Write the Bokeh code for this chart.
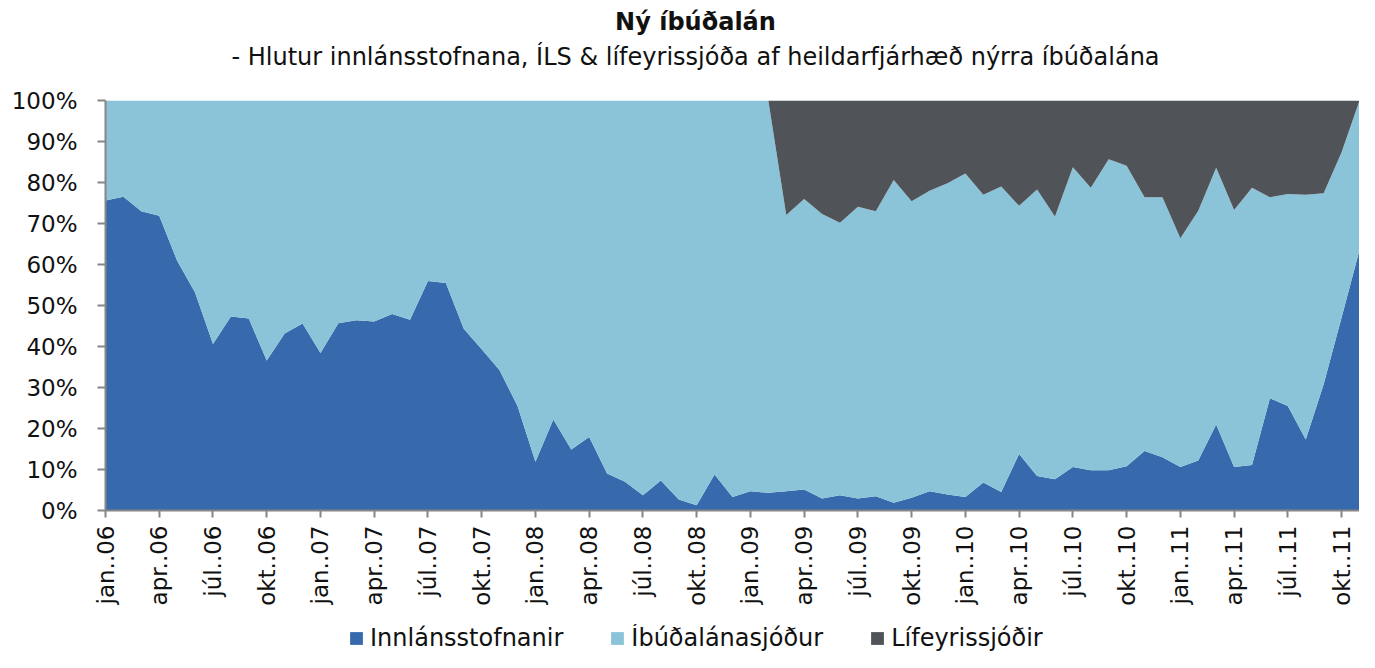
from bokeh.plotting import figure
from bokeh.layouts import column
from bokeh.models import ColumnDataSource, FixedTicker, Range1d, Legend, LegendItem, Label
from bokeh.embed import file_html
from bokeh.resources import INLINE

# Monthly shares (%) Jan 2006 - Nov 2011
innlansstofnanir = [
    75.6, 76.5, 73.0, 71.9, 60.9, 53.2, 40.6, 47.3, 46.8, 36.6, 43.2, 45.6,
    38.4, 45.7, 46.4, 46.1, 47.9, 46.5, 56.0, 55.5, 44.3, 39.3, 34.2, 25.5,
    11.9, 22.2, 14.9, 17.9, 9.0, 7.0, 3.7, 7.3, 2.7, 1.3, 8.8, 3.3,
    4.7, 4.3, 4.7, 5.1, 2.9, 3.7, 2.9, 3.5, 1.9, 3.1, 4.7, 3.9,
    3.3, 6.8, 4.5, 13.8, 8.4, 7.6, 10.6, 9.8, 9.8, 10.8, 14.5, 13.0,
    10.6, 12.2, 21.0, 10.6, 11.1, 27.4, 25.5, 17.3, 30.8, 47.1, 63.5]

ibudalanasjodur = [
    24.4, 23.5, 27.0, 28.1, 39.1, 46.8, 59.4, 52.7, 53.2, 63.4, 56.8, 54.4,
    61.6, 54.3, 53.6, 53.9, 52.1, 53.5, 44.0, 44.5, 55.7, 60.7, 65.8, 74.5,
    88.1, 77.8, 85.1, 82.1, 91.0, 93.0, 96.3, 92.7, 97.3, 98.7, 91.2, 96.7,
    95.3, 95.7, 67.4, 70.9, 69.4, 66.5, 71.2, 69.5, 78.7, 72.3, 73.3, 75.9,
    78.9, 70.2, 74.5, 60.5, 69.9, 64.1, 73.1, 68.9, 75.9, 73.3, 61.9, 63.4,
    55.8, 60.9, 62.6, 62.7, 67.6, 49.0, 51.7, 59.7, 46.6, 40.3, 36.5]

lifeyrissjodir = [
    0.0, 0.0, 0.0, 0.0, 0.0, 0.0, 0.0, 0.0, 0.0, 0.0, 0.0, 0.0,
    0.0, 0.0, 0.0, 0.0, 0.0, 0.0, 0.0, 0.0, 0.0, 0.0, 0.0, 0.0,
    0.0, 0.0, 0.0, 0.0, 0.0, 0.0, 0.0, 0.0, 0.0, 0.0, 0.0, 0.0,
    0.0, 0.0, 27.9, 24.0, 27.7, 29.8, 25.9, 27.0, 19.4, 24.6, 22.0, 20.2,
    17.8, 23.0, 21.0, 25.7, 21.7, 28.3, 16.3, 21.3, 14.3, 15.9, 23.6, 23.6,
    33.6, 26.9, 16.4, 26.7, 21.3, 23.6, 22.8, 23.0, 22.6, 12.6, 0.0]

tick_labels = [
    "jan..06", "apr..06", "júl..06", "okt..06",
    "jan..07", "apr..07", "júl..07", "okt..07",
    "jan..08", "apr..08", "júl..08", "okt..08",
    "jan..09", "apr..09", "júl..09", "okt..09",
    "jan..10", "apr..10", "júl..10", "okt..10",
    "jan..11", "apr..11", "júl..11", "okt..11"]

series_names = ["Innlánsstofnanir", "Íbúðalánasjóður", "Lífeyrissjóðir"]
colors = ["#376AAD", "#8BC4D8", "#505459"]

title_text = "Ný íbúðalán"
subtitle_text = "- Hlutur innlánsstofnana, ÍLS & lífeyrissjóða af heildarfjárhæð nýrra íbúðalána"

month_index = list(range(len(innlansstofnanir)))
source = ColumnDataSource(dict(x=month_index, innl=innlansstofnanir,
                               ils=ibudalanasjodur, lif=lifeyrissjodir))

FONT = "DejaVu Sans"
TXT = "#111111"
W = 1359
LEFT = 105
H_HEAD = 80
H_MAIN = 544
H_LEG = 28

# ---- header strip with title and subtitle ----
head = figure(width=W, height=H_HEAD, output_backend="svg", toolbar_location=None,
              x_range=Range1d(LEFT, W), y_range=Range1d(H_HEAD, 0),
              x_axis_type=None, y_axis_type=None,
              min_border_left=LEFT, min_border_right=0, min_border_top=0, min_border_bottom=0)
head.outline_line_color = None
head.grid.visible = False
head.add_layout(Label(x=695, y=21, text=title_text, text_font=FONT, text_font_style="bold",
                      text_font_size="24px", text_align="center", text_baseline="middle",
                      text_color=TXT))
head.add_layout(Label(x=695, y=56, text=subtitle_text, text_font=FONT,
                      text_font_size="24px", text_align="center", text_baseline="middle",
                      text_color=TXT))

# ---- main chart ----
p = figure(width=W, height=H_MAIN, output_backend="svg", toolbar_location=None,
           x_range=Range1d(0, len(month_index) - 1), y_range=Range1d(0, 100),
           min_border_left=LEFT, min_border_right=0, min_border_top=100 - H_HEAD,
           min_border_bottom=H_HEAD + H_MAIN - 510)
p.outline_line_color = None
p.grid.visible = False

renderers = p.varea_stack(["innl", "ils", "lif"], x="x", color=colors, source=source)

tick_pos = [i * 3 for i in range(len(tick_labels))]
p.xaxis.ticker = FixedTicker(ticks=tick_pos)
p.xaxis.major_label_overrides = {t: l for t, l in zip(tick_pos, tick_labels)}
p.xaxis.major_label_orientation = 1.5708
p.xaxis.minor_tick_line_color = None
p.xaxis.major_tick_in = 0
p.xaxis.major_tick_out = 7
p.xaxis.major_label_standoff = 8

yt = [0, 10, 20, 30, 40, 50, 60, 70, 80, 90, 100]
p.yaxis.ticker = FixedTicker(ticks=yt)
p.yaxis.major_label_overrides = {v: f"{v}%" for v in yt}
p.yaxis.minor_tick_line_color = None
p.yaxis.major_tick_in = 0
p.yaxis.major_tick_out = 8
p.yaxis.major_label_standoff = 20

for ax in (p.xaxis, p.yaxis):
    ax.axis_line_color = "#868686"
    ax.axis_line_width = 2
    ax.major_tick_line_color = "#868686"
    ax.major_tick_line_width = 2
    ax.major_label_text_font = FONT
    ax.major_label_text_font_size = "23px"
    ax.major_label_text_color = TXT

# ---- legend strip below the chart ----
lg = figure(width=W, height=H_LEG, output_backend="svg", toolbar_location=None,
            x_range=Range1d(1000, 1001), y_range=Range1d(1000, 1001),
            x_axis_type=None, y_axis_type=None,
            min_border_left=LEFT, min_border_right=0, min_border_top=0, min_border_bottom=0)
lg.outline_line_color = None
lg.grid.visible = False
leg_renderers = lg.varea_stack(["innl", "ils", "lif"], x="x", color=colors, source=source)

legend = Legend(items=[LegendItem(label=n, renderers=[r]) for n, r in zip(series_names, leg_renderers)],
                location=(348 - LEFT, 0), orientation="horizontal",
                glyph_width=16, glyph_height=16, label_standoff=6, spacing=46,
                padding=0, margin=0, border_line_color=None,
                background_fill_alpha=0, label_text_font=FONT,
                label_text_font_size="24px", label_text_color=TXT)
lg.add_layout(legend)

layout = column(head, p, lg, spacing=0)
open("out.html", "w").write(file_html(layout, INLINE))
